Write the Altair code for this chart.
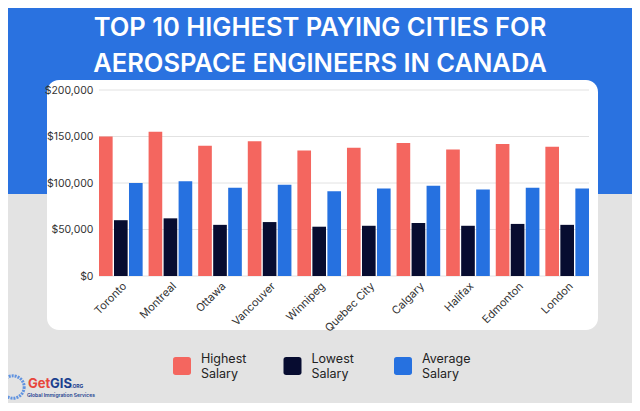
import altair as alt
import pandas as pd

cities = ["Toronto", "Montreal", "Ottawa", "Vancouver", "Winnipeg",
          "Quebec City", "Calgary", "Halifax", "Edmonton", "London"]
series = ["Highest Salary", "Lowest Salary", "Average Salary"]
highest = [150000, 155000, 140000, 145000, 135000, 138000, 143000, 136000, 142000, 139000]
lowest = [60000, 62000, 55000, 58000, 53000, 54000, 57000, 54000, 56000, 55000]
average = [100000, 102000, 95000, 98000, 91000, 94000, 97000, 93000, 95000, 94000]
colors = ["#f4665f", "#070c30", "#2671e0"]
title_lines = ["TOP 10 HIGHEST PAYING CITIES FOR", "AEROSPACE ENGINEERS IN CANADA"]
y_ticks = [0, 50000, 100000, 150000, 200000]

rows = []
for i, c in enumerate(cities):
    rows.append({"city": c, "series": series[0], "value": highest[i]})
    rows.append({"city": c, "series": series[1], "value": lowest[i]})
    rows.append({"city": c, "series": series[2], "value": average[i]})
df = pd.DataFrame(rows)
one = pd.DataFrame({"a": [0]})
grid_df = pd.DataFrame({"value": y_ticks})

FONT = "Inter"
yscale = alt.Scale(domain=[0, 200000], nice=False)
y_axis = alt.Axis(title=None, values=y_ticks, format="$,.0f", grid=False,
                  ticks=False, domain=False, zindex=1,
                  labelPadding=6, labelFont=FONT, labelFontSize=10.5,
                  labelColor="#333333")

blue_bg = alt.Chart(one).mark_rect(color="#2a72e0").encode(
    x=alt.value(-91), x2=alt.value(533), y=alt.value(-82), y2=alt.value(104))
panel = alt.Chart(one).mark_rect(color="white", cornerRadius=12).encode(
    x=alt.value(-52), x2=alt.value(499), y=alt.value(-10), y2=alt.value(240))
title = alt.Chart(one).mark_text(
    color="white", font=FONT, fontSize=25.5, fontWeight=600, align="center",
    baseline="alphabetic", lineHeight=36).encode(
    x=alt.value(221), y=alt.value(-54), text=alt.value(title_lines))

logo_get = alt.Chart(one).mark_text(color="#e8453c", font=FONT, fontSize=13, fontWeight=700,
                                    align="left", baseline="alphabetic").encode(
    x=alt.value(-71), y=alt.value(298), text=alt.value("Get"))
logo_gis = alt.Chart(one).mark_text(color="#1b3f8f", font=FONT, fontSize=13, fontWeight=700,
                                    align="left", baseline="alphabetic").encode(
    x=alt.value(-49), y=alt.value(298), text=alt.value("GIS"))
logo_org = alt.Chart(one).mark_text(color="#1b3f8f", font=FONT, fontSize=5, fontWeight=700,
                                    align="left", baseline="alphabetic").encode(
    x=alt.value(-28), y=alt.value(298), text=alt.value(".ORG"))
logo_sub = alt.Chart(one).mark_text(color="#1b3f8f", font=FONT, fontSize=5, fontWeight=600,
                                    align="left", baseline="alphabetic").encode(
    x=alt.value(-72), y=alt.value(307), text=alt.value("Global Immigration Services"))
logo_globe = alt.Chart(one).mark_point(shape="circle", filled=False, color="#2a72e0",
                                       size=500, strokeWidth=3, strokeDash=[2, 1]).encode(
    x=alt.value(-86), y=alt.value(297))

grid = alt.Chart(grid_df).mark_rule(color="#e2e2e2", strokeWidth=1).encode(
    y=alt.Y("value:Q", scale=yscale, axis=y_axis))

rounded = ("M-0.7,-1 H0.7 Q1,-1 1,-0.7 V0.7 Q1,1 0.7,1 H-0.7 "
           "Q-1,1 -1,0.7 V-0.7 Q-1,-1 -0.7,-1 Z")

bars = alt.Chart(df).mark_bar().encode(
    x=alt.X("city:N", sort=cities,
            scale=alt.Scale(paddingInner=0.12, paddingOuter=0),
            axis=alt.Axis(title=None, labelAngle=-45, ticks=False, domain=False,
                          labelFont=FONT, labelFontSize=11, labelColor="#333333",
                          labelPadding=4, zindex=1)),
    xOffset=alt.XOffset("series:N", sort=series, scale=alt.Scale(paddingInner=0.09)),
    y=alt.Y("value:Q", scale=yscale, axis=y_axis),
    color=alt.Color("series:N", sort=series,
                    scale=alt.Scale(domain=series, range=colors),
                    legend=alt.Legend(orient="none", legendX=74, legendY=267,
                                      direction="horizontal", columns=3, title=None,
                                      symbolType=rounded, symbolSize=324,
                                      symbolStrokeWidth=0, symbolOpacity=1,
                                      labelExpr="split(datum.label, ' ')",
                                      labelBaseline="bottom",
                                      labelFont=FONT, labelFontSize=12.5,
                                      labelColor="#222222", labelOffset=10,
                                      columnPadding=33.5, gridAlign="all")),
)

chart = alt.layer(blue_bg, panel, title, logo_globe, logo_get, logo_gis, logo_org,
                  logo_sub, grid, bars).properties(
    width=490, height=186,
    autosize=alt.AutoSizeParams(type="none"),
    padding={"left": 91, "top": 82, "right": 43, "bottom": 127},
    background="#e3e3e3",
).configure_view(stroke=None)

chart.save("out.html", embed_options={"renderer": "svg", "actions": False})
